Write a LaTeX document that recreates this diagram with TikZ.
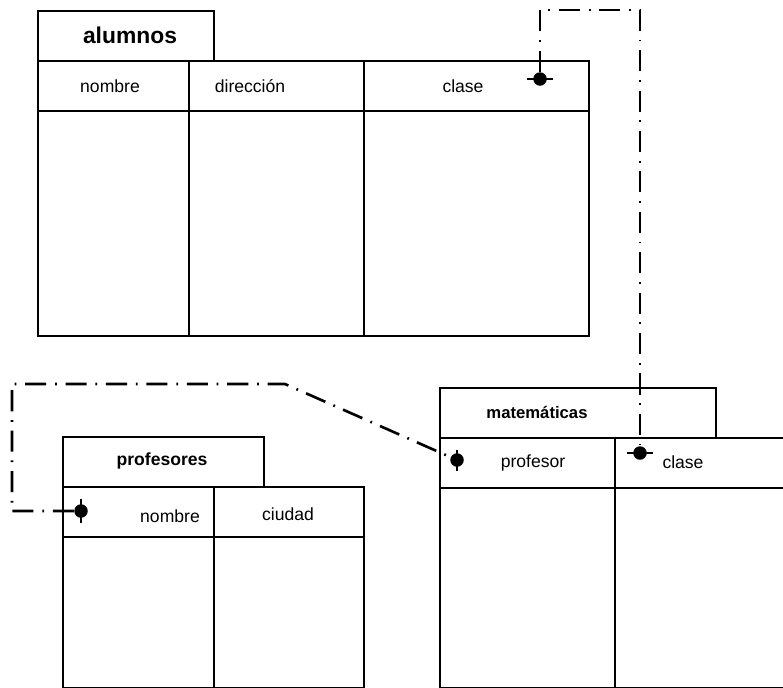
\documentclass[tikz,border=0pt]{standalone}
\usepackage{fontspec}
\setmainfont{Liberation Sans}
\usetikzlibrary{calc,positioning}

\tikzset{
  cell/.style={draw, line width=0.9pt, inner sep=0pt, anchor=north west},
  title/.style={font=\bfseries\fontsize{10}{12}\selectfont},
  field/.style={font=\fontsize{10}{12}\selectfont},
  keydot/.style={circle, fill=black, inner sep=0pt, minimum size=0.27cm},
  tick/.style={line width=1.3pt},
  link/.style={line width=1.5pt, dash pattern=on 12pt off 5pt on 1pt off 5pt}
}

\begin{document}
\begin{tikzpicture}[x=0.02cm, y=-0.02cm]
  \useasboundingbox (0,0) rectangle (783,687);

  % alumnos
  \node[cell, minimum width=3.52cm, minimum height=1cm] (alTitle) at (37,10) {};
  \node[cell, minimum width=3.02cm, minimum height=1cm] (alNombre) at (37,60) {};
  \node[cell, minimum width=3.5cm, minimum height=1cm] (alDir) at (188,60) {};
  \node[cell, minimum width=4.5cm, minimum height=1cm] (alClase) at (363,60) {};
  \node[cell, minimum width=3.02cm, minimum height=4.5cm] (alBody1) at (37,110) {};
  \node[cell, minimum width=3.5cm, minimum height=4.5cm] (alBody2) at (188,110) {};
  \node[cell, minimum width=4.5cm, minimum height=4.5cm] (alBody3) at (363,110) {};
  \node[title, font=\bfseries\fontsize{13}{15}\selectfont] (alTitleTxt) at (130,35) {alumnos};
  \node[field] (alNombreTxt) at (110,86) {nombre};
  \node[field] (alDirTxt) at (250,86) {dirección};
  \node[field] (alClaseTxt) at (463,86) {clase};
  \node[keydot] (alDot) at (540,79) {};
  \draw[tick] ($(alDot)+(-13,0)$) -- ($(alDot)+(13,0)$);

  % matematicas
  \node[cell, minimum width=5.52cm, minimum height=1cm] (maTitle) at (439,387) {};
  \node[cell, minimum width=3.5cm, minimum height=1cm] (maProf) at (439,437) {};
  \node[cell, minimum width=4cm, minimum height=1cm] (maClase) at (614,437) {};
  \node[cell, minimum width=3.5cm, minimum height=4cm] (maBody1) at (439,487) {};
  \node[cell, minimum width=4cm, minimum height=4cm] (maBody2) at (614,487) {};
  \node[title, font=\bfseries\fontsize{9.5}{11}\selectfont] (maTitleTxt) at (537,412) {matemáticas};
  \node[field] (maProfTxt) at (533,463) {profesor};
  \node[field] (maClaseTxt) at (683,462) {clase};
  \node[keydot] (maProfDot) at (457,460) {};
  \draw[tick] ($(maProfDot)+(0,-10)$) -- ($(maProfDot)+(0,11)$);
  \node[keydot] (maClaseDot) at (640,453) {};
  \draw[tick] ($(maClaseDot)+(-13,0)$) -- ($(maClaseDot)+(13,0)$);

  % profesores
  \node[cell, minimum width=4.02cm, minimum height=1cm] (prTitle) at (62,436) {};
  \node[cell, minimum width=3.02cm, minimum height=1cm] (prNombre) at (62,486) {};
  \node[cell, minimum width=3cm, minimum height=1cm] (prCiudad) at (213,486) {};
  \node[cell, minimum width=3.02cm, minimum height=3.02cm] (prBody1) at (62,536) {};
  \node[cell, minimum width=3cm, minimum height=3.02cm] (prBody2) at (213,536) {};
  \node[title] (prTitleTxt) at (162,461) {profesores};
  \node[field] (prNombreTxt) at (170,516) {nombre};
  \node[field] (prCiudadTxt) at (288,514) {ciudad};
  \node[keydot] (prDot) at (81,511) {};
  \draw[tick] ($(prDot)+(0,-12)$) -- ($(prDot)+(0,12)$);

  % links
  \coordinate (topRight) at (640,10);
  \draw[link] (alDot) |- (topRight) -- (maClaseDot);

  \coordinate (lowLeft) at (12,511);
  \coordinate (upLeft) at (12,384);
  \coordinate (bend) at (285,384);
  \draw[link] (prDot) -- (lowLeft) -- (upLeft) -- (bend) -- (maProfDot);
\end{tikzpicture}
\end{document}
